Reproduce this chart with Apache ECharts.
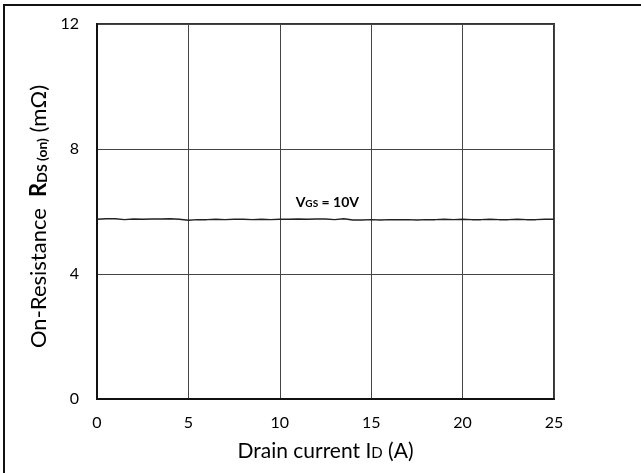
<!DOCTYPE html>
<html>
<head>
<meta charset="utf-8">
<script src="https://cdn.jsdelivr.net/npm/echarts@6/dist/echarts.min.js"></script>
<style>
  html, body { margin: 0; padding: 0; background: #fff; }
  #chart { width: 641px; height: 473px; }
</style>
</head>
<body>
<div id="chart"></div>
<script>
// drain current (A), read every 0.5 A
const current = [
  0, 0.5, 1, 1.5, 2, 2.5, 3, 3.5, 4, 4.5, 5, 5.5, 6, 6.5, 7, 7.5, 8, 8.5, 9, 9.5,
  10, 10.5, 11, 11.5, 12, 12.5, 13, 13.5, 14, 14.5, 15, 15.5, 16, 16.5, 17, 17.5,
  18, 18.5, 19, 19.5, 20, 20.5, 21, 21.5, 22, 22.5, 23, 23.5, 24, 24.5, 25
];
// on-resistance at VGS = 10V (mOhm)
const rdsOn = [
  5.75, 5.77, 5.77, 5.74, 5.76, 5.75, 5.76, 5.76, 5.77, 5.75, 5.72, 5.74, 5.74, 5.75, 5.74, 5.75, 5.75, 5.74, 5.75, 5.74,
  5.75, 5.75, 5.76, 5.75, 5.76, 5.76, 5.74, 5.77, 5.73, 5.73, 5.74, 5.73, 5.74, 5.74, 5.74, 5.73, 5.74, 5.74, 5.75, 5.74,
  5.75, 5.74, 5.74, 5.75, 5.74, 5.74, 5.75, 5.74, 5.74, 5.75, 5.75
];
const xTicks = [0, 5, 10, 15, 20, 25];
const yTicks = [0, 4, 8, 12];

const font = 'Lato, "Open Sans", sans-serif';

const chart = echarts.init(document.getElementById('chart'));

const lineData = current.map((x, i) => [x, rdsOn[i]]);

const options = {
  animation: false,
  textStyle: { fontFamily: font, color: '#000' },
  grid: {
    left: 97,
    top: 24,
    width: 457,
    height: 375,
    show: true,
    borderColor: '#333',
    borderWidth: 2,
    containLabel: false
  },
  xAxis: {
    type: 'value',
    min: xTicks[0],
    max: xTicks[xTicks.length - 1],
    interval: 5,
    name: '{t|Drain current I}{s|D}{t| (A)}',
    nameLocation: 'middle',
    nameGap: 40,
    nameTextStyle: {
      rich: {
        t: { fontSize: 21, fontFamily: font, color: '#000', lineHeight: 24 },
        s: { fontSize: 15, fontFamily: font, color: '#000', lineHeight: 24, padding: [4, 0, 0, 0] }
      }
    },
    axisLine: { show: true, lineStyle: { color: '#111', width: 2 } },
    axisTick: { show: false },
    axisLabel: { fontSize: 16, margin: 16, color: '#000', fontFamily: font },
    splitLine: { show: true, lineStyle: { color: '#444', width: 1 } }
  },
  yAxis: {
    type: 'value',
    min: yTicks[0],
    max: yTicks[yTicks.length - 1],
    interval: 4,
    name: '{t|On-Resistance  }{b|R}{sb|DS (on)}{t| (mΩ)}',
    nameLocation: 'middle',
    nameRotate: 90,
    nameGap: 37,
    nameTextStyle: {
      padding: [0, 10, 0, 0],
      rich: {
        t: { fontSize: 22, fontFamily: font, color: '#000', lineHeight: 26 },
        b: { fontSize: 22, fontWeight: 'bold', fontFamily: font, color: '#000', lineHeight: 26 },
        sb: { fontSize: 14, fontWeight: 'bold', fontFamily: font, color: '#000', lineHeight: 26, padding: [8, 0, 0, 0] }
      }
    },
    axisLine: { show: true, lineStyle: { color: '#111', width: 2 } },
    axisTick: { show: false },
    axisLabel: { fontSize: 16, margin: 18, color: '#000', fontFamily: font },
    splitLine: { show: true, lineStyle: { color: '#444', width: 1 } }
  },
  series: [
    {
      type: 'line',
      data: lineData,
      showSymbol: false,
      smooth: false,
      lineStyle: { color: '#222', width: 1.5 },
      markPoint: {
        symbol: 'circle',
        symbolSize: 0,
        data: [{ coord: [12.6, 6.3] }],
        label: {
          show: true,
          formatter: '{v|V}{s|GS}{v| = 10V}',
          rich: {
            v: { fontSize: 14, fontWeight: 'bold', fontFamily: font, color: '#000' },
            s: { fontSize: 10, fontWeight: 'bold', fontFamily: font, color: '#000', padding: [3, 0, 0, 0] }
          }
        }
      }
    }
  ],
  graphic: [
    {
      type: 'rect',
      shape: { x: 4, y: 5, width: 700, height: 600 },
      style: { fill: 'none', stroke: '#111', lineWidth: 2 },
      silent: true
    }
  ]
};

chart.setOption(options);
</script>
</body>
</html>
